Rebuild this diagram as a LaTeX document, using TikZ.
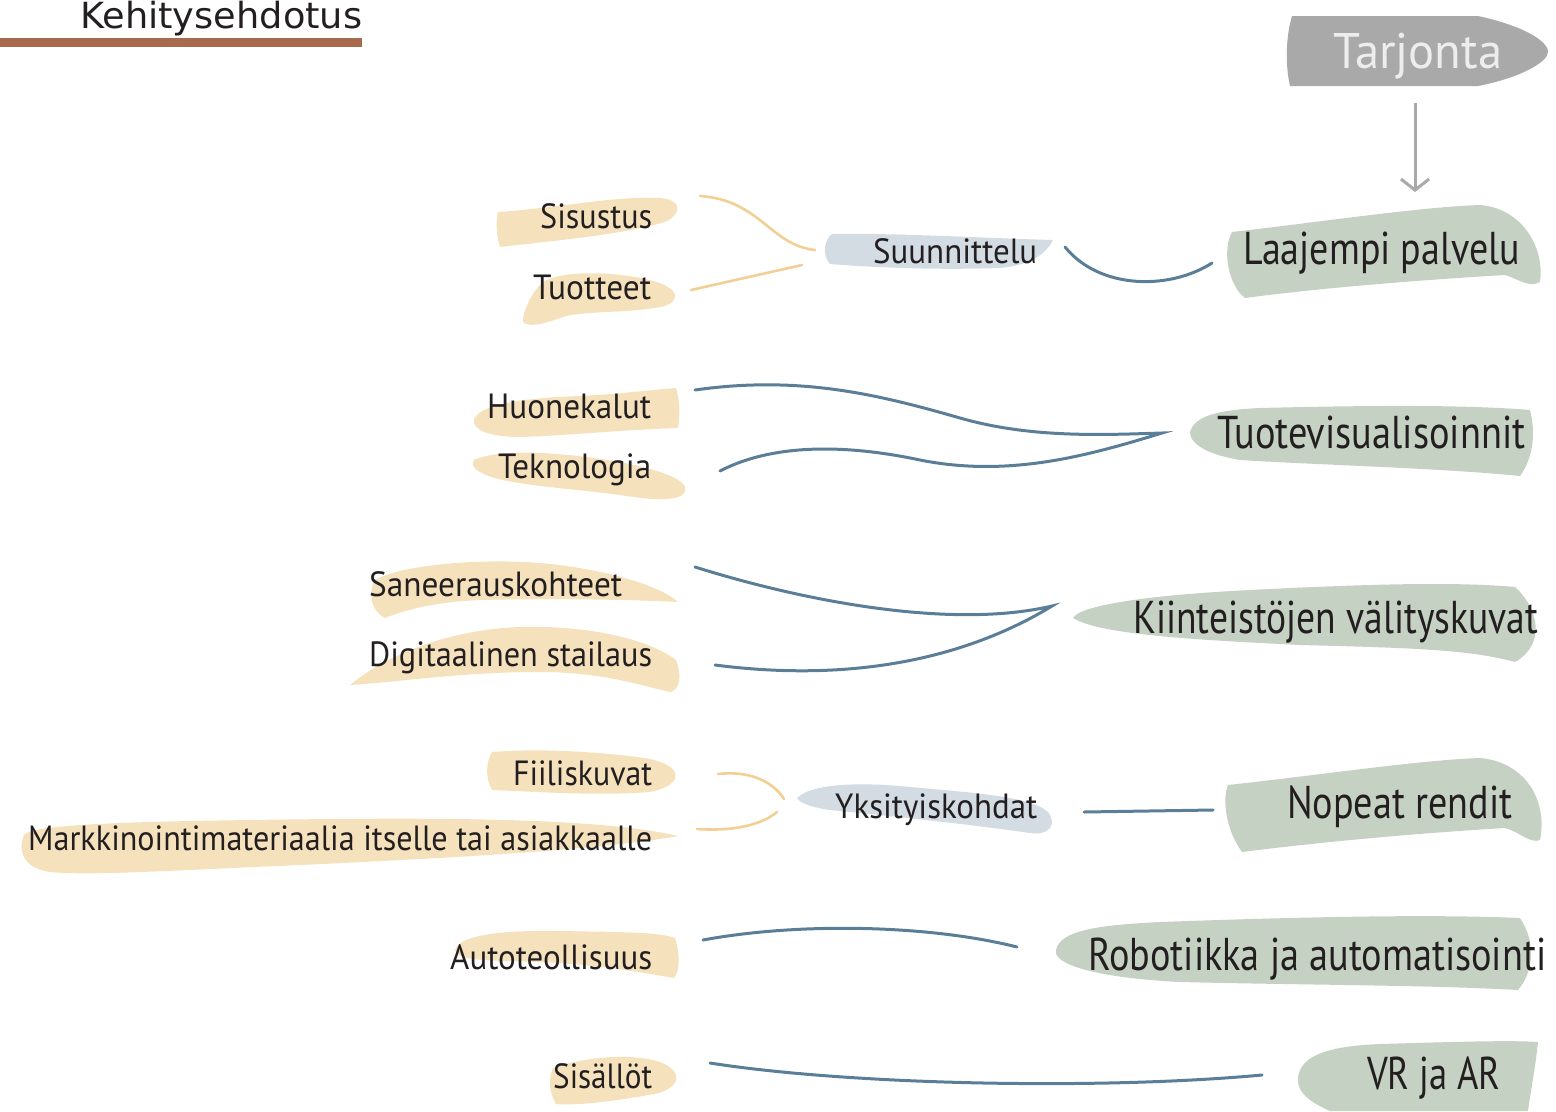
\documentclass[tikz,border=0pt]{standalone}
\usepackage{fontspec}
\usepackage{graphicx}
\setmainfont{PT Sans}
\newfontfamily\titlefont{DejaVu Sans}
\usetikzlibrary{arrows.meta}

\definecolor{beige}{HTML}{F5E2BD}
\definecolor{sage}{HTML}{C5D1C3}
\definecolor{mist}{HTML}{D3DBE3}
\definecolor{linkblue}{HTML}{5A7E97}
\definecolor{linkgold}{HTML}{F2CF95}
\definecolor{slate}{HTML}{A9A9A9}
\definecolor{rust}{HTML}{A86A4D}
\definecolor{ink}{HTML}{231F20}

% stretch a label to a given width, keeping its height
\newcommand{\fitw}[2]{\resizebox{#1bp}{\height}{#2}}

\tikzset{
  lbl/.style={anchor=base west, inner sep=0pt, text=ink},
  small/.style={lbl, font=\fontsize{35bp}{40bp}\selectfont},
  big/.style={lbl, font=\fontsize{46bp}{52bp}\selectfont},
  bluelink/.style={draw=linkblue, line width=3bp, line cap=round},
  goldlink/.style={draw=linkgold, line width=2.6bp, line cap=round},
}

\begin{document}
\begin{tikzpicture}[x=1bp,y=-1bp]
\useasboundingbox (0,0) rectangle (1556,1111);

% ---------- heading ----------
\fill[rust] (0,38) rectangle (362,47);
\node[lbl, font=\titlefont\fontsize{36bp}{40bp}\selectfont] (title) at (80,28) {\fitw{282}{Kehitysehdotus}};

% ---------- offering banner ----------
\fill[slate] (1292,16) -- (1478,16) .. controls (1520,25) and (1548,40) .. (1548,52)
  .. controls (1548,62) and (1520,78) .. (1478,86) -- (1290,86)
  .. controls (1285,65) and (1286,35) .. cycle;
\node[lbl, text=white!93!black, font=\fontsize{50bp}{56bp}\selectfont] (tarjonta) at (1333,68) {\fitw{169}{Tarjonta}};
\coordinate (arrA) at (1415,103);
\coordinate (arrB) at (1415,192);
\draw[draw=slate, line width=3bp, -{Straight Barb[length=11bp,width=28bp,line width=3bp]}] (arrA) -- (arrB);

% ---------- brush strokes: right column ----------
\fill[sage] (1232,232) .. controls (1320,222) and (1420,207) .. (1480,205)
  .. controls (1520,208) and (1545,245) .. (1540,282)
  .. controls (1530,288) and (1520,280) .. (1505,275)
  .. controls (1420,280) and (1320,288) .. (1245,298)
  .. controls (1228,285) and (1222,250) .. cycle;
\fill[sage] (1190,432) .. controls (1195,415) and (1220,410) .. (1260,408)
  .. controls (1380,405) and (1470,405) .. (1530,410)
  .. controls (1535,430) and (1535,455) .. (1520,476)
  .. controls (1440,468) and (1320,465) .. (1240,460)
  .. controls (1210,455) and (1190,445) .. cycle;
\fill[sage] (1073,618) .. controls (1080,605) and (1150,595) .. (1250,590)
  .. controls (1350,585) and (1450,581) .. (1515,587)
  .. controls (1540,610) and (1545,645) .. (1515,662)
  .. controls (1470,650) and (1420,648) .. (1300,645)
  .. controls (1200,640) and (1100,635) .. cycle;
\fill[sage] (1228,785) .. controls (1320,775) and (1420,760) .. (1480,758)
  .. controls (1525,762) and (1548,800) .. (1540,840)
  .. controls (1530,844) and (1520,832) .. (1505,828)
  .. controls (1420,833) and (1320,842) .. (1242,852)
  .. controls (1226,830) and (1222,800) .. cycle;
\fill[sage] (1056,950) .. controls (1060,930) and (1100,925) .. (1160,922)
  .. controls (1300,917) and (1430,914) .. (1520,918)
  .. controls (1535,940) and (1535,970) .. (1518,990)
  .. controls (1430,985) and (1300,985) .. (1180,982)
  .. controls (1100,978) and (1052,965) .. cycle;
\fill[sage] (1298,1078) .. controls (1300,1055) and (1330,1046) .. (1380,1044)
  .. controls (1450,1042) and (1510,1040) .. (1538,1042)
  .. controls (1535,1070) and (1530,1095) .. (1528,1111) -- (1330,1111)
  .. controls (1305,1100) and (1297,1090) .. cycle;

% ---------- brush strokes: middle column ----------
\fill[mist] (832,234) .. controls (900,233) and (980,238) .. (1053,240)
  .. controls (1045,255) and (1030,265) .. (1000,268)
  .. controls (940,270) and (880,268) .. (830,264)
  .. controls (822,255) and (824,240) .. cycle;
\fill[mist] (797,798) .. controls (810,785) and (850,782) .. (900,786)
  .. controls (960,792) and (1030,795) .. (1048,812)
  .. controls (1058,825) and (1048,836) .. (1030,833)
  .. controls (960,823) and (880,815) .. (830,810)
  .. controls (810,807) and (800,803) .. cycle;

% ---------- brush strokes: left column ----------
\fill[beige] (498,212) .. controls (560,208) and (610,196) .. (660,198)
  .. controls (685,200) and (680,215) .. (665,222)
  .. controls (620,235) and (560,240) .. (500,247)
  .. controls (496,235) and (496,222) .. cycle;
\fill[beige] (540,285) .. controls (550,272) and (600,270) .. (640,278)
  .. controls (675,284) and (685,298) .. (665,306)
  .. controls (630,314) and (580,310) .. (560,318)
  .. controls (540,326) and (520,328) .. (523,318)
  .. controls (526,305) and (532,293) .. cycle;
\fill[beige] (474,420) .. controls (478,405) and (520,398) .. (580,396)
  .. controls (620,394) and (650,390) .. (676,388)
  .. controls (680,400) and (680,415) .. (678,428)
  .. controls (620,430) and (560,436) .. (520,437)
  .. controls (490,437) and (472,430) .. cycle;
\fill[beige] (474,460) .. controls (500,448) and (560,452) .. (620,462)
  .. controls (660,470) and (690,480) .. (685,492)
  .. controls (680,502) and (650,500) .. (620,495)
  .. controls (570,488) and (500,485) .. (480,472)
  .. controls (472,468) and (472,463) .. cycle;
\fill[beige] (375,580) .. controls (400,565) and (480,558) .. (540,563)
  .. controls (600,568) and (660,585) .. (678,602)
  .. controls (640,600) and (560,598) .. (480,600)
  .. controls (430,602) and (400,612) .. (385,618)
  .. controls (370,610) and (368,592) .. cycle;
\fill[beige] (350,685) .. controls (380,660) and (440,630) .. (520,627)
  .. controls (590,625) and (650,640) .. (676,660)
  .. controls (682,675) and (680,690) .. (670,692)
  .. controls (640,685) and (600,672) .. (540,672)
  .. controls (460,672) and (400,682) .. cycle;
\fill[beige] (492,752) .. controls (540,748) and (600,752) .. (645,758)
  .. controls (685,765) and (685,785) .. (650,792)
  .. controls (600,796) and (540,792) .. (492,790)
  .. controls (485,778) and (486,762) .. cycle;
\fill[beige] (24,835) .. controls (30,826) and (100,822) .. (250,820)
  .. controls (450,817) and (600,818) .. (678,836)
  .. controls (600,850) and (450,858) .. (300,865)
  .. controls (180,870) and (90,876) .. (50,872)
  .. controls (22,868) and (18,850) .. cycle;
\fill[beige] (455,950) .. controls (460,935) and (500,930) .. (560,931)
  .. controls (620,932) and (660,932) .. (675,938)
  .. controls (680,955) and (680,970) .. (674,978)
  .. controls (640,972) and (600,965) .. (540,962)
  .. controls (490,960) and (458,962) .. cycle;
\fill[beige] (553,1068) .. controls (580,1058) and (630,1052) .. (660,1062)
  .. controls (685,1072) and (680,1088) .. (655,1094)
  .. controls (620,1100) and (580,1106) .. (556,1104)
  .. controls (548,1090) and (549,1078) .. cycle;

% ---------- labels ----------
\node[small] (sisustus) at (540,228) {\fitw{112}{Sisustus}};
\node[small] (tuotteet) at (533,299) {\fitw{118}{Tuotteet}};
\node[small] (huonekalut) at (487,418) {\fitw{164}{Huonekalut}};
\node[small] (teknologia) at (498,478) {\fitw{153}{Teknologia}};
\node[small] (saneeraus) at (369,596) {\fitw{253}{Saneerauskohteet}};
\node[small] (stailaus) at (369,666) {\fitw{283}{Digitaalinen stailaus}};
\node[small] (fiilis) at (513,785) {\fitw{139}{Fiiliskuvat}};
\node[small] (markkinointi) at (28,850) {\fitw{624}{Markkinointimateriaalia itselle tai asiakkaalle}};
\node[small] (auto) at (450,969) {\fitw{202}{Autoteollisuus}};
\node[small] (sisallot) at (553,1088) {\fitw{99}{Sisällöt}};

\node[small] (suunnittelu) at (873,263) {\fitw{164}{Suunnittelu}};
\node[small] (yksityis) at (835,818) {\fitw{202}{Yksityiskohdat}};

\node[big] (laajempi) at (1243,264) {\fitw{277}{Laajempi palvelu}};
\node[big] (tuotevis) at (1217,448) {\fitw{308}{Tuotevisualisoinnit}};
\node[big] (kiinteisto) at (1133,633) {\fitw{405}{Kiinteistöjen välityskuvat}};
\node[big] (nopeat) at (1287,818) {\fitw{225}{Nopeat rendit}};
\node[big] (robotiikka) at (1088,970) {\fitw{458}{Robotiikka ja automatisointi}};
\node[big] (vrar) at (1367,1089) {\fitw{133}{VR ja AR}};

% ---------- connector ends ----------
\coordinate (sisustusE) at (700,196);
\coordinate (tuotteetE) at (691,290);
\coordinate (suunW1) at (815,250);
\coordinate (suunW2) at (802,265);
\coordinate (suunE) at (1065,247);
\coordinate (laajW) at (1212,263);
\coordinate (huoneE) at (695,390);
\coordinate (teknoE) at (720,471);
\coordinate (tuotevisW) at (1162,433);
\coordinate (saneerE) at (695,567);
\coordinate (stailE) at (715,665);
\coordinate (kiintW) at (1052,606);
\coordinate (fiilisE) at (718,774);
\coordinate (markkE) at (697,829);
\coordinate (yksW1) at (784,799);
\coordinate (yksW2) at (777,812);
\coordinate (yksE) at (1084,812);
\coordinate (nopeatW) at (1213,810);
\coordinate (autoE) at (703,940);
\coordinate (robotW) at (1017,947);
\coordinate (sisallotE) at (710,1063);
\coordinate (vrarW) at (1262,1075);

% ---------- connectors ----------
\draw[goldlink] (sisustusE) .. controls (760,200) and (770,245) .. (suunW1);
\draw[goldlink] (tuotteetE) -- (suunW2);
\draw[bluelink] (suunE) .. controls (1100,290) and (1170,290) .. (laajW);

\draw[bluelink] (huoneE) .. controls (800,375) and (880,395) .. (960,418)
  .. controls (1030,438) and (1100,435) .. (tuotevisW)
  .. controls (1090,455) and (1010,478) .. (920,460)
  .. controls (840,443) and (770,445) .. (teknoE);

\draw[bluelink] (saneerE) .. controls (800,600) and (950,630) .. (kiintW)
  .. controls (980,650) and (870,685) .. (stailE);

\draw[goldlink] (fiilisE) .. controls (755,770) and (775,785) .. (yksW1);
\draw[goldlink] (markkE) .. controls (740,832) and (765,822) .. (yksW2);
\draw[bluelink] (yksE) -- (nopeatW);

\draw[bluelink] (autoE) .. controls (800,922) and (930,925) .. (robotW);
\draw[bluelink] (sisallotE) .. controls (850,1085) and (1100,1090) .. (vrarW);
\end{tikzpicture}
\end{document}
